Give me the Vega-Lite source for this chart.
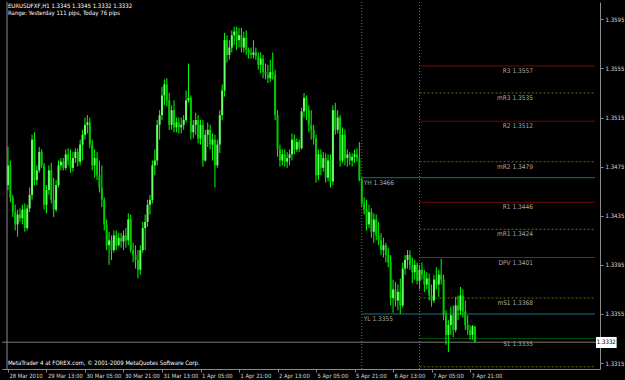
{
"$schema": "https://vega.github.io/schema/vega-lite/v6.json",
"width": 598, "height": 367,
"autosize": "none",
"padding": {"left": 2, "top": 2, "right": 25, "bottom": 11},
"background": "#000000",
"config": {"view": {"stroke": null}},
"datasets": {
"bars": [
{"i":0,"o":1.3460,"h":1.3491,"l":1.3456,"c":1.3476},
{"i":1,"o":1.3476,"h":1.3480,"l":1.3446,"c":1.3450},
{"i":2,"o":1.3450,"h":1.3452,"l":1.3434,"c":1.3438},
{"i":3,"o":1.3438,"h":1.3444,"l":1.3423,"c":1.3428},
{"i":4,"o":1.3428,"h":1.3440,"l":1.3418,"c":1.3436},
{"i":5,"o":1.3436,"h":1.3441,"l":1.3430,"c":1.3433},
{"i":6,"o":1.3433,"h":1.3444,"l":1.3428,"c":1.3440},
{"i":7,"o":1.3440,"h":1.3445,"l":1.3422,"c":1.3425},
{"i":8,"o":1.3425,"h":1.3444,"l":1.3423,"c":1.3441},
{"i":9,"o":1.3441,"h":1.3458,"l":1.3438,"c":1.3452},
{"i":10,"o":1.3452,"h":1.3501,"l":1.3448,"c":1.3497},
{"i":11,"o":1.3497,"h":1.3503,"l":1.3460,"c":1.3464},
{"i":12,"o":1.3464,"h":1.3476,"l":1.3460,"c":1.3472},
{"i":13,"o":1.3472,"h":1.3491,"l":1.3470,"c":1.3487},
{"i":14,"o":1.3487,"h":1.3489,"l":1.3474,"c":1.3476},
{"i":15,"o":1.3476,"h":1.3478,"l":1.3440,"c":1.3444},
{"i":16,"o":1.3444,"h":1.3460,"l":1.3437,"c":1.3456},
{"i":17,"o":1.3456,"h":1.3476,"l":1.3452,"c":1.3472},
{"i":18,"o":1.3472,"h":1.3478,"l":1.3445,"c":1.3448},
{"i":19,"o":1.3448,"h":1.3466,"l":1.3434,"c":1.3440},
{"i":20,"o":1.3440,"h":1.3464,"l":1.3438,"c":1.3460},
{"i":21,"o":1.3460,"h":1.3480,"l":1.3458,"c":1.3476},
{"i":22,"o":1.3476,"h":1.3482,"l":1.3472,"c":1.3479},
{"i":23,"o":1.3479,"h":1.3482,"l":1.3472,"c":1.3474},
{"i":24,"o":1.3474,"h":1.3489,"l":1.3472,"c":1.3485},
{"i":25,"o":1.3485,"h":1.3490,"l":1.3476,"c":1.3480},
{"i":26,"o":1.3480,"h":1.3489,"l":1.3470,"c":1.3474},
{"i":27,"o":1.3474,"h":1.3487,"l":1.3471,"c":1.3482},
{"i":28,"o":1.3482,"h":1.3490,"l":1.3478,"c":1.3487},
{"i":29,"o":1.3487,"h":1.3490,"l":1.3475,"c":1.3479},
{"i":30,"o":1.3479,"h":1.3497,"l":1.3476,"c":1.3493},
{"i":31,"o":1.3493,"h":1.3505,"l":1.3480,"c":1.3501},
{"i":32,"o":1.3501,"h":1.3515,"l":1.3497,"c":1.3509},
{"i":33,"o":1.3509,"h":1.3517,"l":1.3502,"c":1.3511},
{"i":34,"o":1.3511,"h":1.3515,"l":1.3490,"c":1.3493},
{"i":35,"o":1.3493,"h":1.3497,"l":1.3472,"c":1.3476},
{"i":36,"o":1.3476,"h":1.3489,"l":1.3466,"c":1.3482},
{"i":37,"o":1.3482,"h":1.3487,"l":1.3464,"c":1.3468},
{"i":38,"o":1.3468,"h":1.3480,"l":1.3454,"c":1.3458},
{"i":39,"o":1.3458,"h":1.3476,"l":1.3442,"c":1.3448},
{"i":40,"o":1.3448,"h":1.3450,"l":1.3423,"c":1.3428},
{"i":41,"o":1.3428,"h":1.3432,"l":1.3407,"c":1.3411},
{"i":42,"o":1.3411,"h":1.3422,"l":1.3395,"c":1.3415},
{"i":43,"o":1.3415,"h":1.3419,"l":1.3399,"c":1.3407},
{"i":44,"o":1.3407,"h":1.3423,"l":1.3405,"c":1.3419},
{"i":45,"o":1.3419,"h":1.3423,"l":1.3407,"c":1.3411},
{"i":46,"o":1.3411,"h":1.3421,"l":1.3410,"c":1.3417},
{"i":47,"o":1.3417,"h":1.3421,"l":1.3409,"c":1.3414},
{"i":48,"o":1.3414,"h":1.3423,"l":1.3407,"c":1.3419},
{"i":49,"o":1.3419,"h":1.3425,"l":1.3409,"c":1.3415},
{"i":50,"o":1.3415,"h":1.3437,"l":1.3411,"c":1.3432},
{"i":51,"o":1.3432,"h":1.3436,"l":1.3405,"c":1.3407},
{"i":52,"o":1.3407,"h":1.3413,"l":1.3397,"c":1.3403},
{"i":53,"o":1.3403,"h":1.3411,"l":1.3392,"c":1.3399},
{"i":54,"o":1.3399,"h":1.3407,"l":1.3384,"c":1.3391},
{"i":55,"o":1.3391,"h":1.3411,"l":1.3387,"c":1.3407},
{"i":56,"o":1.3407,"h":1.3430,"l":1.3405,"c":1.3425},
{"i":57,"o":1.3425,"h":1.3436,"l":1.3407,"c":1.3430},
{"i":58,"o":1.3430,"h":1.3448,"l":1.3426,"c":1.3444},
{"i":59,"o":1.3444,"h":1.3452,"l":1.3436,"c":1.3448},
{"i":60,"o":1.3448,"h":1.3480,"l":1.3445,"c":1.3476},
{"i":61,"o":1.3476,"h":1.3489,"l":1.3468,"c":1.3480},
{"i":62,"o":1.3480,"h":1.3513,"l":1.3476,"c":1.3509},
{"i":63,"o":1.3509,"h":1.3521,"l":1.3497,"c":1.3517},
{"i":64,"o":1.3517,"h":1.3540,"l":1.3513,"c":1.3533},
{"i":65,"o":1.3533,"h":1.3546,"l":1.3525,"c":1.3542},
{"i":66,"o":1.3542,"h":1.3547,"l":1.3524,"c":1.3529},
{"i":67,"o":1.3529,"h":1.3535,"l":1.3505,"c":1.3509},
{"i":68,"o":1.3509,"h":1.3525,"l":1.3505,"c":1.3521},
{"i":69,"o":1.3521,"h":1.3529,"l":1.3503,"c":1.3507},
{"i":70,"o":1.3507,"h":1.3515,"l":1.3503,"c":1.3511},
{"i":71,"o":1.3511,"h":1.3515,"l":1.3502,"c":1.3507},
{"i":72,"o":1.3507,"h":1.3515,"l":1.3502,"c":1.3509},
{"i":73,"o":1.3509,"h":1.3517,"l":1.3505,"c":1.3513},
{"i":74,"o":1.3513,"h":1.3537,"l":1.3511,"c":1.3529},
{"i":75,"o":1.3529,"h":1.3559,"l":1.3527,"c":1.3531},
{"i":76,"o":1.3531,"h":1.3533,"l":1.3497,"c":1.3503},
{"i":77,"o":1.3503,"h":1.3513,"l":1.3498,"c":1.3509},
{"i":78,"o":1.3509,"h":1.3519,"l":1.3501,"c":1.3513},
{"i":79,"o":1.3513,"h":1.3517,"l":1.3494,"c":1.3498},
{"i":80,"o":1.3498,"h":1.3513,"l":1.3493,"c":1.3509},
{"i":81,"o":1.3509,"h":1.3513,"l":1.3475,"c":1.3480},
{"i":82,"o":1.3480,"h":1.3505,"l":1.3479,"c":1.3501},
{"i":83,"o":1.3501,"h":1.3511,"l":1.3491,"c":1.3505},
{"i":84,"o":1.3505,"h":1.3509,"l":1.3489,"c":1.3493},
{"i":85,"o":1.3493,"h":1.3502,"l":1.3480,"c":1.3497},
{"i":86,"o":1.3497,"h":1.3501,"l":1.3458,"c":1.3476},
{"i":87,"o":1.3476,"h":1.3497,"l":1.3474,"c":1.3493},
{"i":88,"o":1.3493,"h":1.3521,"l":1.3486,"c":1.3517},
{"i":89,"o":1.3517,"h":1.3542,"l":1.3513,"c":1.3537},
{"i":90,"o":1.3537,"h":1.3584,"l":1.3532,"c":1.3578},
{"i":91,"o":1.3578,"h":1.3582,"l":1.3560,"c":1.3566},
{"i":92,"o":1.3566,"h":1.3578,"l":1.3562,"c":1.3572},
{"i":93,"o":1.3572,"h":1.3586,"l":1.3568,"c":1.3582},
{"i":94,"o":1.3582,"h":1.3589,"l":1.3574,"c":1.3585},
{"i":95,"o":1.3585,"h":1.3589,"l":1.3570,"c":1.3578},
{"i":96,"o":1.3578,"h":1.3588,"l":1.3572,"c":1.3582},
{"i":97,"o":1.3582,"h":1.3588,"l":1.3568,"c":1.3572},
{"i":98,"o":1.3572,"h":1.3585,"l":1.3568,"c":1.3580},
{"i":99,"o":1.3580,"h":1.3586,"l":1.3566,"c":1.3570},
{"i":100,"o":1.3570,"h":1.3572,"l":1.3563,"c":1.3568},
{"i":101,"o":1.3568,"h":1.3572,"l":1.3563,"c":1.3566},
{"i":102,"o":1.3566,"h":1.3578,"l":1.3563,"c":1.3568},
{"i":103,"o":1.3568,"h":1.3572,"l":1.3562,"c":1.3565},
{"i":104,"o":1.3565,"h":1.3568,"l":1.3554,"c":1.3558},
{"i":105,"o":1.3558,"h":1.3568,"l":1.3551,"c":1.3563},
{"i":106,"o":1.3563,"h":1.3566,"l":1.3547,"c":1.3552},
{"i":107,"o":1.3552,"h":1.3559,"l":1.3546,"c":1.3550},
{"i":108,"o":1.3550,"h":1.3558,"l":1.3543,"c":1.3547},
{"i":109,"o":1.3547,"h":1.3562,"l":1.3544,"c":1.3552},
{"i":110,"o":1.3552,"h":1.3568,"l":1.3546,"c":1.3550},
{"i":111,"o":1.3550,"h":1.3554,"l":1.3513,"c":1.3517},
{"i":112,"o":1.3517,"h":1.3521,"l":1.3483,"c":1.3489},
{"i":113,"o":1.3489,"h":1.3493,"l":1.3475,"c":1.3480},
{"i":114,"o":1.3480,"h":1.3489,"l":1.3476,"c":1.3485},
{"i":115,"o":1.3485,"h":1.3489,"l":1.3475,"c":1.3479},
{"i":116,"o":1.3479,"h":1.3487,"l":1.3474,"c":1.3482},
{"i":117,"o":1.3482,"h":1.3489,"l":1.3476,"c":1.3485},
{"i":118,"o":1.3485,"h":1.3502,"l":1.3480,"c":1.3497},
{"i":119,"o":1.3497,"h":1.3501,"l":1.3485,"c":1.3489},
{"i":120,"o":1.3489,"h":1.3498,"l":1.3487,"c":1.3495},
{"i":121,"o":1.3495,"h":1.3497,"l":1.3487,"c":1.3490},
{"i":122,"o":1.3490,"h":1.3523,"l":1.3489,"c":1.3520},
{"i":123,"o":1.3520,"h":1.3535,"l":1.3515,"c":1.3531},
{"i":124,"o":1.3531,"h":1.3533,"l":1.3513,"c":1.3521},
{"i":125,"o":1.3521,"h":1.3525,"l":1.3503,"c":1.3509},
{"i":126,"o":1.3509,"h":1.3521,"l":1.3497,"c":1.3505},
{"i":127,"o":1.3505,"h":1.3509,"l":1.3493,"c":1.3498},
{"i":128,"o":1.3498,"h":1.3501,"l":1.3462,"c":1.3468},
{"i":129,"o":1.3468,"h":1.3489,"l":1.3464,"c":1.3485},
{"i":130,"o":1.3485,"h":1.3489,"l":1.3468,"c":1.3474},
{"i":131,"o":1.3474,"h":1.3487,"l":1.3471,"c":1.3482},
{"i":132,"o":1.3482,"h":1.3486,"l":1.3462,"c":1.3466},
{"i":133,"o":1.3466,"h":1.3485,"l":1.3463,"c":1.3480},
{"i":134,"o":1.3480,"h":1.3485,"l":1.3458,"c":1.3463},
{"i":135,"o":1.3463,"h":1.3525,"l":1.3460,"c":1.3521},
{"i":136,"o":1.3521,"h":1.3527,"l":1.3501,"c":1.3505},
{"i":137,"o":1.3505,"h":1.3521,"l":1.3502,"c":1.3515},
{"i":138,"o":1.3515,"h":1.3517,"l":1.3475,"c":1.3480},
{"i":139,"o":1.3480,"h":1.3507,"l":1.3478,"c":1.3501},
{"i":140,"o":1.3501,"h":1.3505,"l":1.3476,"c":1.3482},
{"i":141,"o":1.3482,"h":1.3489,"l":1.3475,"c":1.3485},
{"i":142,"o":1.3485,"h":1.3487,"l":1.3476,"c":1.3480},
{"i":143,"o":1.3480,"h":1.3486,"l":1.3475,"c":1.3483},
{"i":144,"o":1.3483,"h":1.3489,"l":1.3478,"c":1.3485},
{"i":145,"o":1.3485,"h":1.3490,"l":1.3479,"c":1.3482},
{"i":146,"o":1.3482,"h":1.3495,"l":1.3463,"c":1.3464},
{"i":147,"o":1.3464,"h":1.3466,"l":1.3442,"c":1.3445},
{"i":148,"o":1.3445,"h":1.3450,"l":1.3436,"c":1.3440},
{"i":149,"o":1.3440,"h":1.3448,"l":1.3423,"c":1.3428},
{"i":150,"o":1.3428,"h":1.3444,"l":1.3425,"c":1.3438},
{"i":151,"o":1.3438,"h":1.3441,"l":1.3417,"c":1.3422},
{"i":152,"o":1.3422,"h":1.3437,"l":1.3413,"c":1.3432},
{"i":153,"o":1.3432,"h":1.3436,"l":1.3415,"c":1.3419},
{"i":154,"o":1.3419,"h":1.3430,"l":1.3411,"c":1.3415},
{"i":155,"o":1.3415,"h":1.3421,"l":1.3403,"c":1.3407},
{"i":156,"o":1.3407,"h":1.3417,"l":1.3401,"c":1.3411},
{"i":157,"o":1.3411,"h":1.3413,"l":1.3397,"c":1.3403},
{"i":158,"o":1.3403,"h":1.3409,"l":1.3393,"c":1.3397},
{"i":159,"o":1.3397,"h":1.3403,"l":1.3362,"c":1.3368},
{"i":160,"o":1.3368,"h":1.3383,"l":1.3356,"c":1.3375},
{"i":161,"o":1.3375,"h":1.3381,"l":1.3361,"c":1.3366},
{"i":162,"o":1.3366,"h":1.3379,"l":1.3358,"c":1.3373},
{"i":163,"o":1.3373,"h":1.3384,"l":1.3355,"c":1.3362},
{"i":164,"o":1.3362,"h":1.3397,"l":1.3360,"c":1.3392},
{"i":165,"o":1.3392,"h":1.3403,"l":1.3387,"c":1.3399},
{"i":166,"o":1.3399,"h":1.3407,"l":1.3392,"c":1.3403},
{"i":167,"o":1.3403,"h":1.3407,"l":1.3391,"c":1.3395},
{"i":168,"o":1.3395,"h":1.3401,"l":1.3380,"c":1.3389},
{"i":169,"o":1.3389,"h":1.3399,"l":1.3383,"c":1.3395},
{"i":170,"o":1.3395,"h":1.3397,"l":1.3379,"c":1.3382},
{"i":171,"o":1.3382,"h":1.3395,"l":1.3375,"c":1.3391},
{"i":172,"o":1.3391,"h":1.3397,"l":1.3383,"c":1.3387},
{"i":173,"o":1.3387,"h":1.3391,"l":1.3373,"c":1.3379},
{"i":174,"o":1.3379,"h":1.3389,"l":1.3375,"c":1.3384},
{"i":175,"o":1.3384,"h":1.3388,"l":1.3366,"c":1.3370},
{"i":176,"o":1.3370,"h":1.3379,"l":1.3361,"c":1.3366},
{"i":177,"o":1.3366,"h":1.3387,"l":1.3364,"c":1.3383},
{"i":178,"o":1.3383,"h":1.3393,"l":1.3375,"c":1.3379},
{"i":179,"o":1.3379,"h":1.3391,"l":1.3369,"c":1.3387},
{"i":180,"o":1.3387,"h":1.3400,"l":1.3379,"c":1.3383},
{"i":181,"o":1.3383,"h":1.3387,"l":1.3350,"c":1.3354},
{"i":182,"o":1.3354,"h":1.3358,"l":1.3330,"c":1.3338},
{"i":183,"o":1.3338,"h":1.3350,"l":1.3324,"c":1.3346},
{"i":184,"o":1.3346,"h":1.3361,"l":1.3338,"c":1.3354},
{"i":185,"o":1.3354,"h":1.3362,"l":1.3336,"c":1.3342},
{"i":186,"o":1.3342,"h":1.3369,"l":1.3340,"c":1.3362},
{"i":187,"o":1.3362,"h":1.3370,"l":1.3350,"c":1.3358},
{"i":188,"o":1.3358,"h":1.3377,"l":1.3354,"c":1.3370},
{"i":189,"o":1.3370,"h":1.3375,"l":1.3352,"c":1.3357},
{"i":190,"o":1.3357,"h":1.3366,"l":1.3342,"c":1.3346},
{"i":191,"o":1.3346,"h":1.3354,"l":1.3338,"c":1.3342},
{"i":192,"o":1.3342,"h":1.3346,"l":1.3334,"c":1.3338},
{"i":193,"o":1.3338,"h":1.3346,"l":1.3334,"c":1.3345},
{"i":194,"o":1.3345,"h":1.3345,"l":1.3332,"c":1.3332}
],
"levels": [
{"label":"R3 1.3557","price":1.3557,"start":171,"kind":"R"},
{"label":"mR3 1.3535","price":1.3535,"start":171,"kind":"M"},
{"label":"R2 1.3512","price":1.3512,"start":171,"kind":"R"},
{"label":"mR2 1.3479","price":1.3479,"start":171,"kind":"M"},
{"label":"R1 1.3446","price":1.3446,"start":171,"kind":"R"},
{"label":"mR1 1.3424","price":1.3424,"start":171,"kind":"M"},
{"label":"DPV 1.3401","price":1.3401,"start":171,"kind":"P"},
{"label":"mS1 1.3368","price":1.3368,"start":171,"kind":"M"},
{"label":"S1 1.3335","price":1.3335,"start":171,"kind":"S"},
{"label":"mS2 1.3312","price":1.3312,"start":171,"kind":"M"},
{"label":"YH 1.3466","price":1.3466,"start":147,"kind":"Y"},
{"label":"YL 1.3355","price":1.3355,"start":147,"kind":"Y"}
],
"seps": [{"i":147},{"i":171}],
"bid": [{"price":1.3332,"label":"1.3332"}]
},
"layer": [
{"data":{"name":"seps"},"mark":{"type":"rule","color":"#7a7a00","strokeWidth":1,"strokeDash":[1,2]},
 "encoding":{"x":{"field":"i","type":"quantitative","scale":{"domain":[-0.4,243.9],"nice":false,"zero":false},
  "axis":{"values":[0,16,32,48,64,80,96,112,128,144,160,176,192],
   "labelExpr":"['28 Mar 2010','29 Mar 13:00','30 Mar 05:00','30 Mar 21:00','31 Mar 13:00','1 Apr 05:00','1 Apr 21:00','2 Apr 13:00','5 Apr 05:00','5 Apr 21:00','6 Apr 13:00','7 Apr 05:00','7 Apr 21:00'][round(datum.value/16)]",
   "title":null,"grid":false,"domainColor":"#8a8a8a","tickColor":"#8a8a8a","tickSize":3,"labelPadding":0,
   "labelAlign":"left","labelOffset":1,"labelFlush":false,"labelOverlap":false,"labelColor":"#d8d8d8",
   "labelFont":"Liberation Sans Narrow, DejaVu Sans Condensed, Liberation Sans","labelFontSize":5.8}}}},
{"data":{"name":"levels"},"mark":{"type":"rule","strokeWidth":1},
 "encoding":{"x":{"field":"start","type":"quantitative","scale":{"domain":[-0.4,243.9],"nice":false,"zero":false}},
  "x2":{"datum":243.9},
  "y":{"field":"price","type":"quantitative","scale":{"domain":[1.33102,1.36091],"nice":false,"zero":false},
   "axis":{"orient":"right","values":[1.3315,1.3335,1.3355,1.3375,1.3395,1.3415,1.3435,1.3455,1.3475,1.3495,1.3515,1.3535,1.3555,1.3575,1.3595],
    "format":".4f","title":null,"grid":false,"domainColor":"#8a8a8a","tickColor":"#8a8a8a","tickSize":3,"labelPadding":2,
    "labelFlush":false,"labelOverlap":false,"labelColor":"#d8d8d8","labelFont":"Liberation Sans Narrow, DejaVu Sans Condensed, Liberation Sans","labelFontSize":6}},
  "color":{"field":"kind","type":"nominal","scale":{"domain":["R","M","P","S","Y"],"range":["#8b0a0a","#6e6e00","#2050c8","#006e00","#1f7f90"]},"legend":null},
  "strokeDash":{"field":"kind","type":"nominal","scale":{"domain":["R","M","P","S","Y"],"range":[[1,0],[2,2],[1,0],[1,0],[1,0]]},"legend":null}}},
{"data":{"name":"levels"},"transform":[{"filter":"datum.kind != 'Y'"}],
 "mark":{"type":"text","align":"right","baseline":"top","dy":2,"clip":true,"color":"#a8a8a8","font":"Liberation Sans Narrow, DejaVu Sans Condensed, Liberation Sans","fontSize":6.5},
 "encoding":{"x":{"datum":218.1,"type":"quantitative","scale":{"domain":[-0.4,243.9],"nice":false,"zero":false}},
  "y":{"field":"price","type":"quantitative","scale":{"domain":[1.33102,1.36091],"nice":false,"zero":false}},
  "text":{"field":"label"}}},
{"data":{"name":"levels"},"transform":[{"filter":"datum.kind == 'Y'"}],
 "mark":{"type":"text","align":"left","baseline":"top","dx":2,"dy":2,"color":"#a8a8a8","font":"Liberation Sans Narrow, DejaVu Sans Condensed, Liberation Sans","fontSize":6.5},
 "encoding":{"x":{"field":"start","type":"quantitative","scale":{"domain":[-0.4,243.9],"nice":false,"zero":false}},
  "y":{"field":"price","type":"quantitative","scale":{"domain":[1.33102,1.36091],"nice":false,"zero":false}},
  "text":{"field":"label"}}},
{"data":{"name":"bid"},"mark":{"type":"rule","color":"#7a7a7a","strokeWidth":1},
 "encoding":{"y":{"field":"price","type":"quantitative","scale":{"domain":[1.33102,1.36091],"nice":false,"zero":false}}}},
{"data":{"name":"bars"},"mark":{"type":"rule","color":"#00ff00","strokeWidth":1},
 "encoding":{"x":{"field":"i","type":"quantitative","scale":{"domain":[-0.4,243.9],"nice":false,"zero":false}},
  "y":{"field":"l","type":"quantitative","scale":{"domain":[1.33102,1.36091],"nice":false,"zero":false}},
  "y2":{"field":"h"}}},
{"data":{"name":"bars"},"mark":{"type":"bar","size":2},
 "encoding":{"x":{"field":"i","type":"quantitative","scale":{"domain":[-0.4,243.9],"nice":false,"zero":false}},
  "y":{"field":"o","type":"quantitative","scale":{"domain":[1.33102,1.36091],"nice":false,"zero":false}},
  "y2":{"field":"c"},
  "color":{"condition":{"test":"datum.c >= datum.o","value":"#66ff66"},"value":"#00cc00"}}},
{"data":{"values":[{}]},"mark":{"type":"rule","color":"#8a8a8a","strokeWidth":1},
 "encoding":{"x":{"datum":-0.4,"type":"quantitative","scale":{"domain":[-0.4,243.9],"nice":false,"zero":false}}}},
{"data":{"name":"bid"},"mark":{"type":"rect","color":"#ffffff"},
 "encoding":{"x":{"datum":244.3,"type":"quantitative","scale":{"domain":[-0.4,243.9],"nice":false,"zero":false}},
  "x2":{"datum":252.9},
  "y":{"datum":1.33363,"type":"quantitative","scale":{"domain":[1.33102,1.36091],"nice":false,"zero":false}},
  "y2":{"datum":1.33273}}},
{"data":{"name":"bid"},"mark":{"type":"text","align":"center","baseline":"middle","color":"#000000","font":"Liberation Sans Narrow, DejaVu Sans Condensed, Liberation Sans","fontSize":6},
 "encoding":{"x":{"datum":248.6,"type":"quantitative","scale":{"domain":[-0.4,243.9],"nice":false,"zero":false}},
  "y":{"field":"price","type":"quantitative","scale":{"domain":[1.33102,1.36091],"nice":false,"zero":false}},
  "text":{"field":"label"}}},
{"data":{"values":[{"t":"EURUSDFXF,H1  1.3345 1.3345 1.3332 1.3332"}]},
 "mark":{"type":"text","align":"left","baseline":"middle","color":"#ffffff","font":"Liberation Sans Narrow, DejaVu Sans Condensed, Liberation Sans","fontSize":6},
 "encoding":{"x":{"datum":0,"type":"quantitative","scale":{"domain":[-0.4,243.9],"nice":false,"zero":false}},
  "y":{"datum":1.36059,"type":"quantitative","scale":{"domain":[1.33102,1.36091],"nice":false,"zero":false}},
  "text":{"field":"t"}}},
{"data":{"values":[{"t":"Range: Yesterday 111 pips, Today 76 pips"}]},
 "mark":{"type":"text","align":"left","baseline":"middle","color":"#ffffff","font":"Liberation Sans Narrow, DejaVu Sans Condensed, Liberation Sans","fontSize":6},
 "encoding":{"x":{"datum":0,"type":"quantitative","scale":{"domain":[-0.4,243.9],"nice":false,"zero":false}},
  "y":{"datum":1.36002,"type":"quantitative","scale":{"domain":[1.33102,1.36091],"nice":false,"zero":false}},
  "text":{"field":"t"}}},
{"data":{"values":[{"t":"MetaTrader 4 at FOREX.com, © 2001-2009 MetaQuotes Software Corp."}]},
 "mark":{"type":"text","align":"left","baseline":"middle","color":"#ffffff","font":"Liberation Sans Narrow, DejaVu Sans Condensed, Liberation Sans","fontSize":6},
 "encoding":{"x":{"datum":0,"type":"quantitative","scale":{"domain":[-0.4,243.9],"nice":false,"zero":false}},
  "y":{"datum":1.33151,"type":"quantitative","scale":{"domain":[1.33102,1.36091],"nice":false,"zero":false}},
  "text":{"field":"t"}}}
]
}
